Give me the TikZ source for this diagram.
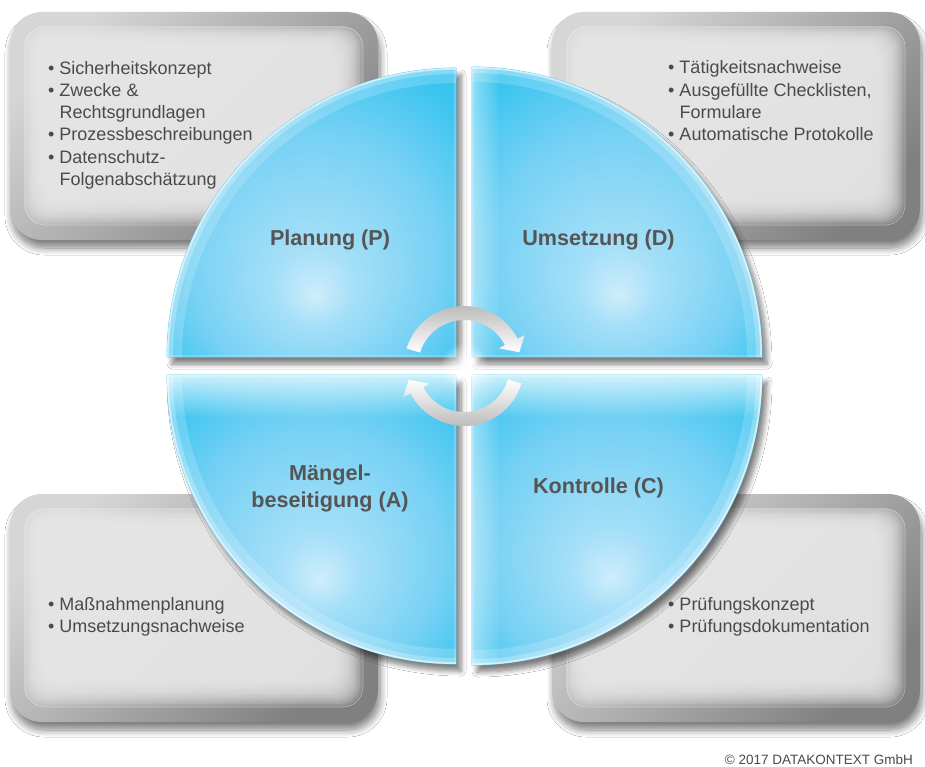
\documentclass[tikz,border=0pt]{standalone}
\usepackage{fontspec}
\setmainfont{Liberation Sans}
\usetikzlibrary{calc,fadings,shadows.blur}

\definecolor{boxlight}{HTML}{D6D6D6}
\definecolor{boxdark}{HTML}{808080}
\definecolor{boxpanel}{HTML}{E8E8E8}
\definecolor{quadedge}{HTML}{4ECBF2}
\definecolor{ringgrey}{HTML}{B0B0B0}
\definecolor{labelgrey}{HTML}{555555}
\definecolor{itemgrey}{HTML}{4A4A4A}

% radial fills of the four quarters (highlight low in the middle)
\def\quadcolors{color(0bp)=(rgb,255:red,206;green,237;blue,251); color(7bp)=(rgb,255:red,165;green,223;blue,248); color(22bp)=(rgb,255:red,118;green,209;blue,244); color(34bp)=(rgb,255:red,56;green,196;blue,240); color(50bp)=(rgb,255:red,52;green,194;blue,239)}
\pgfdeclareradialshading{quadTL}{\pgfpoint{0.6bp}{-14.6bp}}{\quadcolors}
\pgfdeclareradialshading{quadTR}{\pgfpoint{0.2bp}{-14.6bp}}{\quadcolors}
\pgfdeclareradialshading{quadBL}{\pgfpoint{1.5bp}{-10.5bp}}{\quadcolors}
\pgfdeclareradialshading{quadBR}{\pgfpoint{-1.2bp}{-10bp}}{\quadcolors}

\tikzfading[name=hubglow, inner color=transparent!0, outer color=transparent!100]

% outlines of the quarters and their round edges
\def\quadP{(456,357) -- (167,357) arc[start angle=180,end angle=270,radius=289] -- cycle}
\def\quadD{(472,357) -- (762,357) arc[start angle=0,end angle=-90,radius=290] -- cycle}
\def\quadA{(456,375) -- (167,375) arc[start angle=180,end angle=90,radius=289] -- cycle}
\def\quadC{(472,375) -- (762,375) arc[start angle=0,end angle=90,radius=290] -- cycle}
\def\rimP{(167,357) arc[start angle=180,end angle=270,radius=289]}
\def\rimD{(762,357) arc[start angle=0,end angle=-90,radius=290]}
\def\rimA{(167,375) arc[start angle=180,end angle=90,radius=289]}
\def\rimC{(762,375) arc[start angle=0,end angle=90,radius=290]}

\newcommand\dotitem{\textbullet\ }
\newcommand\dotgap{\phantom{\textbullet\ }}

\tikzset{
  boxframe/.style={rounded corners=32pt, top color=boxlight, bottom color=boxdark, shading angle=45,
    blur shadow={shadow xshift=2pt, shadow yshift=-8pt, shadow opacity=50, shadow blur radius=7pt, shadow blur steps=10}},
  boxlayer/.style={rounded corners=20pt, fill=boxpanel, fill opacity=0.2},
  boxrim/.style={rounded corners=20pt, draw=white, draw opacity=0.45, line width=0.6pt},
  quad/.style={draw=quadedge, line width=0.8pt,
    blur shadow={shadow xshift=5pt, shadow yshift=-7pt, shadow opacity=50, shadow blur radius=5pt, shadow blur steps=8}},
  rimglow/.style={draw=white, draw opacity=#1},
  itemtext/.style={font=\fontsize{18}{22.2}\selectfont, text=itemgrey, align=left, inner sep=0pt, anchor=north west},
  phasetext/.style={font=\fontsize{21.6}{27}\selectfont\bfseries, text=labelgrey, align=center, inner sep=0pt},
}

% grey tray: frame, soft inner panel, thin inner line
\def\greybox(#1,#2)(#3,#4){%
  \shade[boxframe] (#1,#2) rectangle (#3,#4);
  \foreach \k in {0,...,12}
    \fill[boxlayer] ($(#1,#2)+(14+1.6*\k,14+1.6*\k)$) rectangle ($(#3,#4)-(16+2.2*\k,16+2.2*\k)$);
  \draw[boxrim] ($(#1,#2)+(15,15)$) rectangle ($(#3,#4)-(15,15)$);
}

% soft light along the edges of one quarter
\def\glossquad#1#2{%
  \begin{scope}
    \clip #1;
    \draw[rimglow=0.18, line width=30pt] #2;
    \draw[rimglow=0.25, line width=12pt] #2;
    \draw[rimglow=0.5, line width=3pt] #2;
    \draw[rimglow=0.2, line width=4pt] #1;
  \end{scope}
}

\begin{document}
\begin{tikzpicture}[x=1pt,y=-1pt]
  \useasboundingbox (0,0) rectangle (925,767);
  \fill[white] (0,0) rectangle (925,767);

  %%%%% TRAYS %%%%%
  \greybox(10,12)(378,240)
  \greybox(552,12)(920,240)
  \greybox(10,494)(378,722)
  \greybox(552,494)(920,722)

  \node[itemtext] (planitems) at (48,61.1) {\dotitem Sicherheitskonzept\\
    \dotitem Zwecke \&\\ \dotgap Rechtsgrundlagen\\
    \dotitem Prozessbeschreibungen\\
    \dotitem Datenschutz-\\ \dotgap Folgenabschätzung};
  \node[itemtext] (doitems) at (668,60.6) {\dotitem Tätigkeitsnachweise\\
    \dotitem Ausgefüllte Checklisten,\\ \dotgap Formulare\\
    \dotitem Automatische Protokolle};
  \node[itemtext] (actitems) at (48,597.1) {\dotitem Maßnahmenplanung\\
    \dotitem Umsetzungsnachweise};
  \node[itemtext] (checkitems) at (668,597.1) {\dotitem Prüfungskonzept\\
    \dotitem Prüfungsdokumentation};

  %%%%% QUARTERS %%%%%
  \shadedraw[quad, shading=quadTL] \quadP;
  \shadedraw[quad, shading=quadTR] \quadD;
  \shadedraw[quad, shading=quadBL] \quadA;
  \shadedraw[quad, shading=quadBR] \quadC;

  \glossquad{\quadP}{\rimP}
  \glossquad{\quadD}{\rimD}
  \glossquad{\quadA}{\rimA}
  \glossquad{\quadC}{\rimC}

  % light top edge of the lower quarters, light left edge of the right ones
  \begin{scope}
    \clip \quadA;
    \fill[white, path fading=south, opacity=0.75] (160,375) rectangle (460,418);
  \end{scope}
  \begin{scope}
    \clip \quadC;
    \fill[white, path fading=south, opacity=0.75] (470,375) rectangle (770,418);
    \fill[white, path fading=east, opacity=0.45] (472,375) rectangle (500,670);
  \end{scope}
  \begin{scope}
    \clip \quadD;
    \fill[white, path fading=east, opacity=0.45] (472,60) rectangle (500,357);
  \end{scope}

  %%%%% CYCLE ARROWS %%%%%
  \coordinate (hub) at (464,366);
  \fill[white, path fading=hubglow] (hub) circle (24);

  \shade[top color=ringgrey, bottom color=white]
    ($(hub)+(-163:46)$) arc[start angle=-163, end angle=-27, radius=46]
    -- ($(hub)+(-27:39)$) -- ($(hub)+(-14:57)$) -- ($(hub)+(-27:68)$)
    -- ($(hub)+(-27:60)$) arc[start angle=-27, end angle=-163, radius=60] -- cycle;
  \shade[top color=white, bottom color=ringgrey]
    ($(hub)+(17:46)$) arc[start angle=17, end angle=153, radius=46]
    -- ($(hub)+(153:39)$) -- ($(hub)+(166:57)$) -- ($(hub)+(153:68)$)
    -- ($(hub)+(153:60)$) arc[start angle=153, end angle=17, radius=60] -- cycle;

  %%%%% LABELS %%%%%
  \node[phasetext, anchor=base] (plan) at (330,245) {Planung (P)};
  \node[phasetext, anchor=base] (do) at (598.5,245) {Umsetzung (D)};
  \node[phasetext, anchor=north] (act) at (330,464.5) {Mängel-\\beseitigung (A)};
  \node[phasetext, anchor=base] (check) at (598.5,493) {Kontrolle (C)};

  \node[font=\fontsize{13.5}{16}\selectfont, text=itemgrey, anchor=base east, inner sep=0pt] (copyright) at (913,764) {© 2017 DATAKONTEXT GmbH};
\end{tikzpicture}
\end{document}
